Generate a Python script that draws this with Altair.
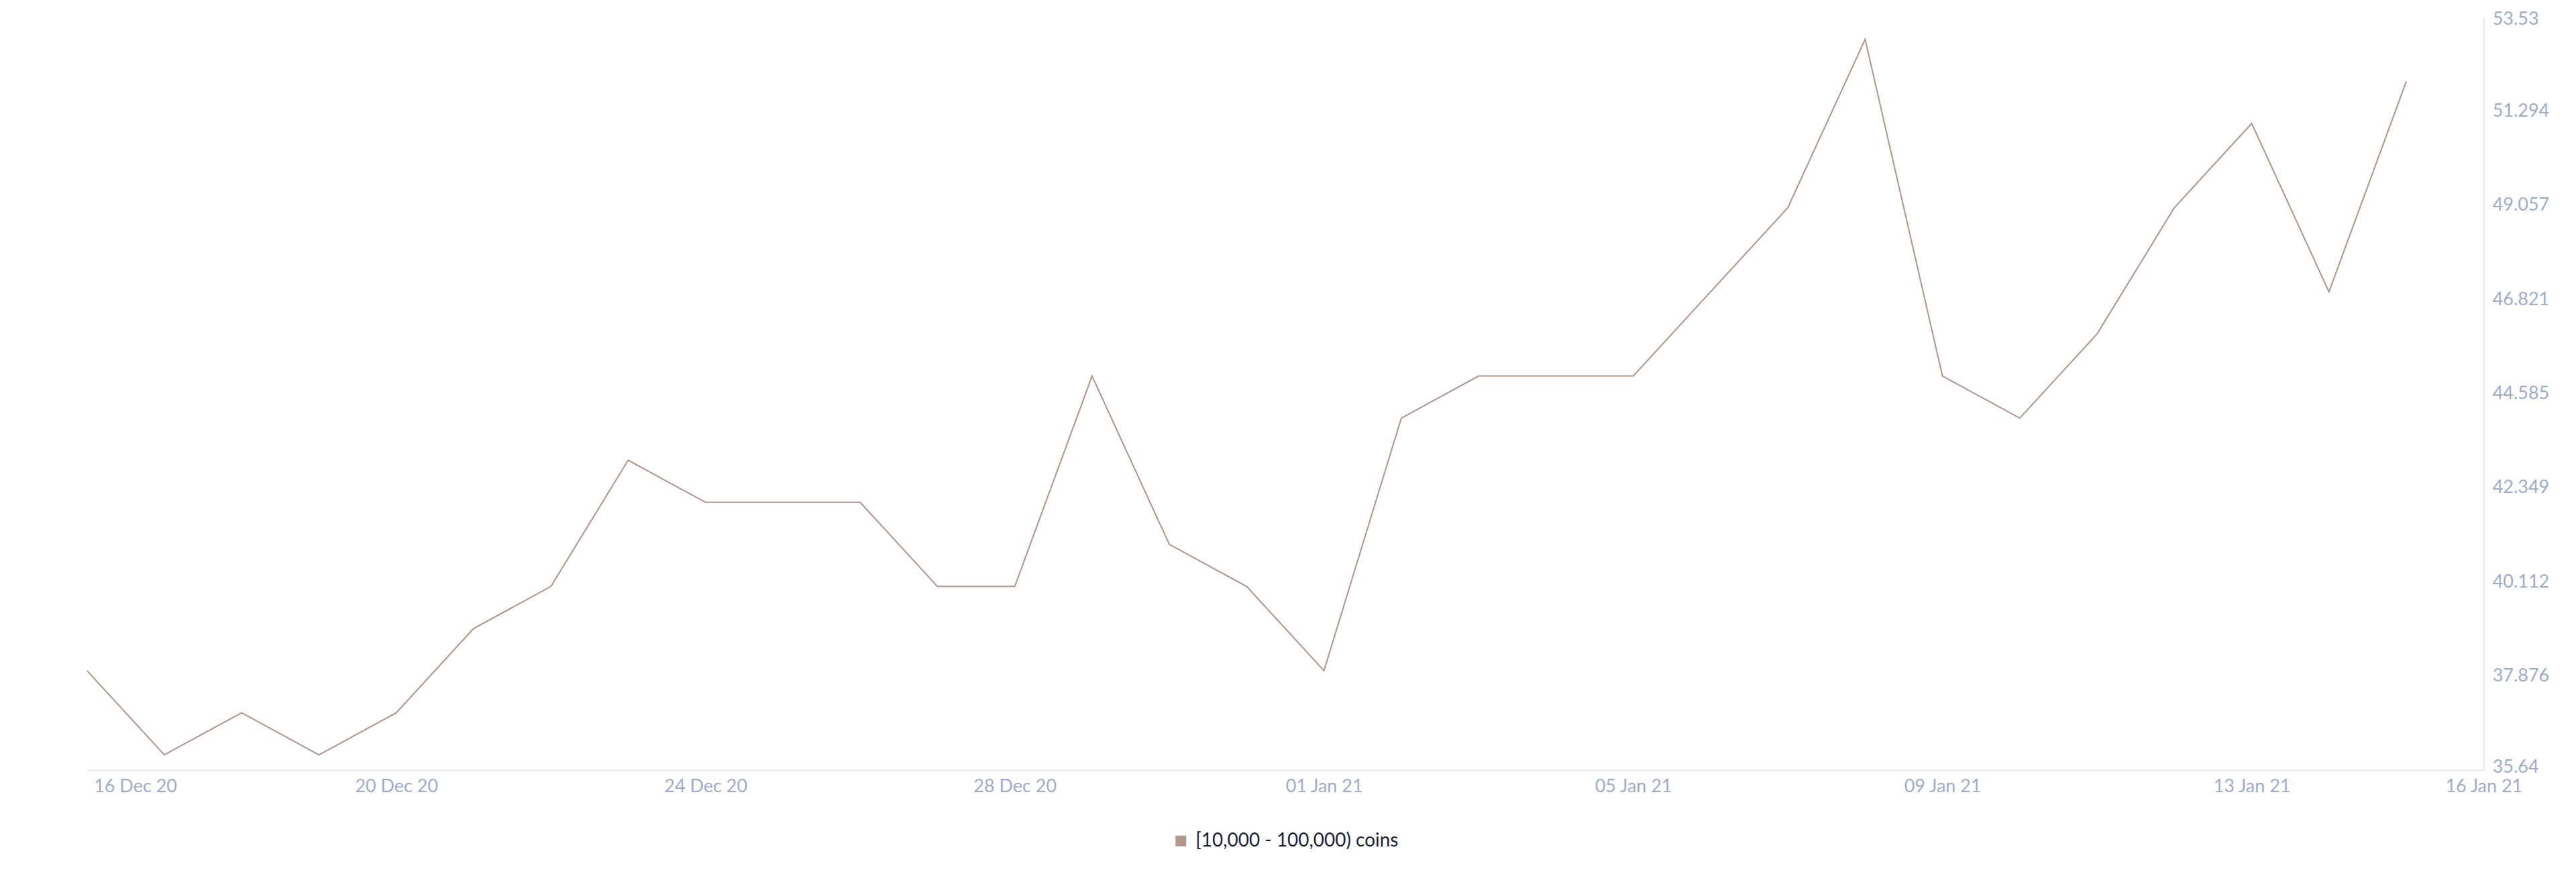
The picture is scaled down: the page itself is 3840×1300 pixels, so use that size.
import altair as alt
import pandas as pd

dates = [d.strftime("%Y-%m-%d") for d in pd.date_range("2020-12-16", "2021-01-15", freq="D")]
values = [38, 36, 37, 36, 37, 39, 40, 43, 42, 42, 42, 40, 40, 45, 41, 40,
          38, 44, 45, 45, 45, 47, 49, 53, 45, 44, 46, 49, 51, 47, 52]
series_name = "[10,000 - 100,000) coins"
y_ticks = [35.64, 37.876, 40.112, 42.349, 44.585, 46.821, 49.057, 51.294, 53.53]
x_tick_dates = [(2020, 12, 16), (2020, 12, 20), (2020, 12, 24), (2020, 12, 28),
                (2021, 1, 1), (2021, 1, 5), (2021, 1, 9), (2021, 1, 13), (2021, 1, 16)]

df = pd.DataFrame({"date": dates, "value": values, "series": series_name})

LABEL_COLOR = "#a1abc7"
AXIS_COLOR = "#e4e8f3"
FONT = "Lato"

x_vals = [alt.DateTime(year=y, month=m, date=d, utc=True) for (y, m, d) in x_tick_dates]

chart = alt.Chart(df).mark_line(strokeWidth=2).encode(
    x=alt.X(
        "date:T",
        scale=alt.Scale(type="utc",
                        domain=[alt.DateTime(year=2020, month=12, date=16, utc=True),
                                alt.DateTime(year=2021, month=1, date=16, utc=True)]),
        axis=alt.Axis(
            title=None, values=x_vals,
            labelExpr="utcFormat(datum.value, '%d %b %y')",
            grid=False, ticks=False, domainColor=AXIS_COLOR, domainWidth=2,
            labelColor=LABEL_COLOR, labelFont=FONT, labelFontSize=27,
            labelPadding=12,
            labelAlign={"condition": {"test": "datum.index == 0", "value": "left"}, "value": "center"},
            labelOffset={"condition": {"test": "datum.index == 0", "value": 10}, "value": 0},
        ),
    ),
    y=alt.Y(
        "value:Q",
        scale=alt.Scale(domain=[35.64, 53.53], nice=False, zero=False),
        axis=alt.Axis(
            title=None, orient="right", values=y_ticks, format=".5~g",
            grid=False, ticks=False, domainColor=AXIS_COLOR, domainWidth=2,
            labelColor=LABEL_COLOR, labelFont=FONT, labelFontSize=27,
            labelPadding=13, labelBaseline="middle",
            labelOffset={"condition": [{"test": "datum.index == 0", "value": -4},
                                       {"test": "datum.index == 1", "value": 3}],
                         "value": 0},
        ),
    ),
    color=alt.Color(
        "series:N",
        scale=alt.Scale(range=["#ae948c"]),
        legend=alt.Legend(
            title=None, orient="none", legendX=1620, legendY=1217, padding=0,
            symbolType="square", symbolSize=256, symbolFillColor="#b3968e",
            symbolStrokeColor="#b3968e", symbolStrokeWidth=0, symbolOpacity=1,
            labelFont=FONT, labelFontSize=28, labelColor="#1c2136", labelOffset=8,
            labelLimit=0,
        ),
    ),
).properties(
    width=3580, height=1125,
    background="white",
    autosize=alt.AutoSizeParams(type="none"),
    padding={"left": 122, "top": 16, "right": 130, "bottom": 150},
).configure_view(strokeWidth=0)

chart.save("out.html", embed_options={"renderer": "svg", "actions": False})
